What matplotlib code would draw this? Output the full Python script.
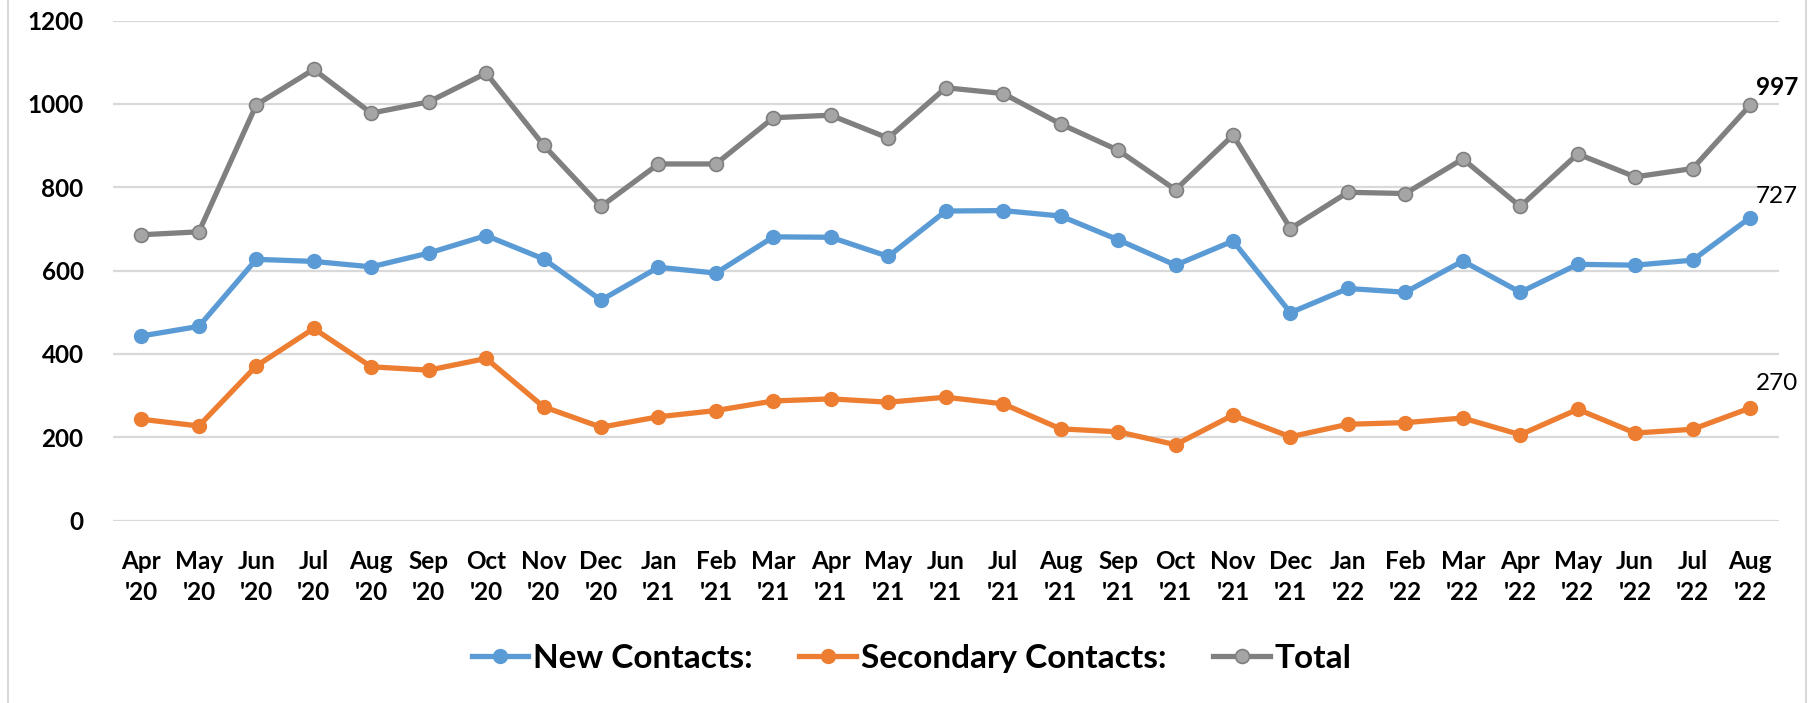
import matplotlib
matplotlib.use("Agg")
import matplotlib.pyplot as plt
from matplotlib.lines import Line2D

months = ["Apr '20", "May '20", "Jun '20", "Jul '20", "Aug '20", "Sep '20",
          "Oct '20", "Nov '20", "Dec '20", "Jan '21", "Feb '21", "Mar '21",
          "Apr '21", "May '21", "Jun '21", "Jul '21", "Aug '21", "Sep '21",
          "Oct '21", "Nov '21", "Dec '21", "Jan '22", "Feb '22", "Mar '22",
          "Apr '22", "May '22", "Jun '22", "Jul '22", "Aug '22"]

new_contacts = [443, 466, 627, 622, 609, 642, 684, 628, 529, 608, 594, 681,
                680, 634, 743, 744, 731, 674, 613, 671, 499, 557, 548, 623,
                548, 615, 613, 625, 727]
secondary_contacts = [243, 227, 371, 461, 369, 361, 389, 273, 224, 249, 264,
                      287, 292, 284, 296, 280, 220, 213, 182, 253, 201, 231,
                      235, 246, 206, 267, 210, 219, 270]
total = [686, 693, 998, 1083, 978, 1005, 1074, 901, 754, 856, 856, 967, 973,
         918, 1039, 1025, 952, 889, 794, 925, 701, 788, 785, 868, 754, 880,
         825, 845, 997]

plt.rcParams["font.family"] = ["Lato", "DejaVu Sans"]

fig = plt.figure(figsize=(18.09, 7.03), dpi=100)
ax = fig.add_axes([0.0623, 0.2596, 0.9833 - 0.0623, 0.9706 - 0.2596])

x = list(range(len(months)))
blue = "#5B9BD5"
orange = "#ED7D31"
grey = "#808080"

ax.plot(x, new_contacts, color=blue, lw=3.8, marker="o", ms=10,
        mfc=blue, mec=blue, label="New Contacts:", zorder=3)
ax.plot(x, secondary_contacts, color=orange, lw=3.8, marker="o", ms=10,
        mfc=orange, mec=orange, label="Secondary Contacts:", zorder=3)
ax.plot(x, total, color=grey, lw=3.8, marker="o", ms=10,
        mfc="#A5A5A5", mec="#7F7F7F", mew=1.2, label="Total", zorder=3)

ax.set_xlim(-0.5, len(months) - 0.5)
ax.set_ylim(0, 1200)
ax.set_yticks(range(0, 1201, 200))
ax.yaxis.grid(True, color="#D9D9D9", lw=1.6)
ax.set_axisbelow(True)
for s in ax.spines.values():
    s.set_visible(False)

ax.set_xticks(x)
ax.set_xticklabels([m.replace(" ", "\n") for m in months], fontsize=17.5,
                   fontweight="bold", linespacing=1.45)
for lbl in ax.get_yticklabels():
    lbl.set_fontsize(17.5)
    lbl.set_fontweight("bold")
ax.tick_params(axis="both", length=0)
ax.tick_params(axis="y", pad=21)
ax.tick_params(axis="x", pad=21)

# end-of-series value labels
last = len(months) - 1
ax.annotate(str(total[-1]), (last, total[-1]), xytext=(4, 13),
            textcoords="offset points", ha="left", va="center",
            fontsize=17.5, fontweight="bold")
ax.annotate(str(new_contacts[-1]), (last, new_contacts[-1]), xytext=(4, 15),
            textcoords="offset points", ha="left", va="center", fontsize=17.5)
ax.annotate(str(secondary_contacts[-1]), (last, secondary_contacts[-1]),
            xytext=(4, 18), textcoords="offset points", ha="left",
            va="center", fontsize=17.5)

fig.legend(loc="center", bbox_to_anchor=(0.504, 0.064), ncol=3, frameon=False,
           prop={"size": 24, "weight": "bold"}, handlelength=1.7,
           handletextpad=0.15, columnspacing=1.4, numpoints=1)

# chart frame edges
fig.add_artist(Line2D([0.0042, 0.0042], [0, 1], color="#D9D9D9", lw=1.5))
fig.add_artist(Line2D([0.9986, 0.9986], [0, 1], color="#D9D9D9", lw=1.5))

fig.savefig("out.png", dpi=100)
